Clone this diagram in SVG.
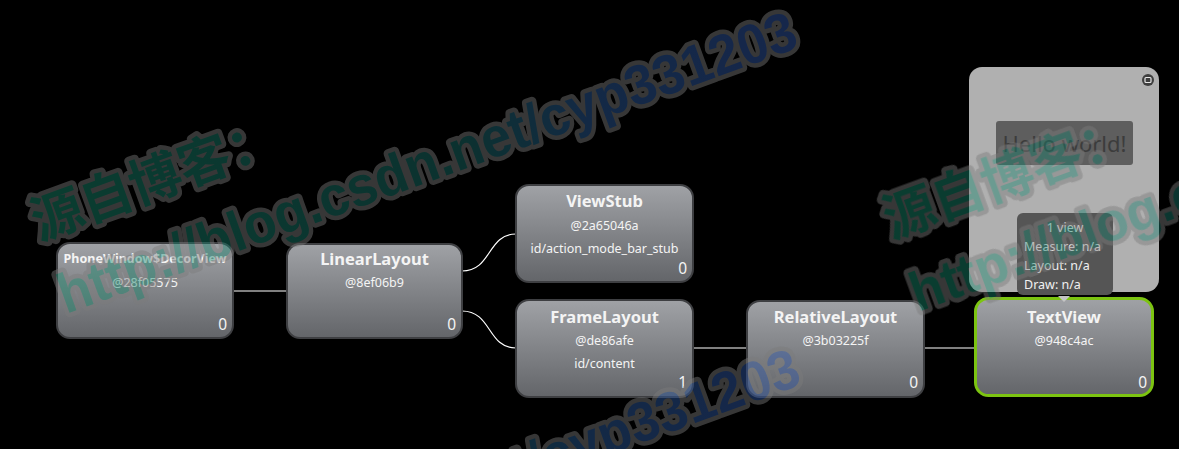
<svg xmlns="http://www.w3.org/2000/svg" xmlns:xlink="http://www.w3.org/1999/xlink" width="1179" height="449" viewBox="0 0 1179 449">
<style>
.node rect.box{fill:url(#nodeGrad);stroke:#3e3f42;stroke-width:2}
.node text{font-family:"Noto Sans","Open Sans","Liberation Sans",sans-serif;fill:#f4f4f4;text-anchor:middle}
.node text.title{font-weight:bold;font-size:16.5px}
.node text.sub{font-size:12.5px}
.node text.count{font-size:15.5px;text-anchor:end}
.conn{fill:none;stroke:#ffffff;stroke-width:1.2}
.tip{font-family:"Noto Sans","Open Sans","Liberation Sans",sans-serif;font-size:12.5px;fill:#f0f0f0}
.wm{font-family:"Liberation Sans","Noto Sans CJK SC",sans-serif;font-weight:bold;font-size:56px;fill:url(#wmGrad);stroke:#7c7c7c;stroke-width:9;stroke-linejoin:round;paint-order:stroke}
.wm.cjk{font-family:"Noto Sans CJK SC",sans-serif;font-size:52px}
</style>
<defs>
<linearGradient id="nodeGrad" x1="0" y1="0" x2="0" y2="1">
<stop offset="0" stop-color="#a0a2a6"/>
<stop offset="1" stop-color="#636569"/>
</linearGradient>
<linearGradient id="wmGrad" gradientUnits="userSpaceOnUse" x1="0" y1="0" x2="780" y2="0">
<stop offset="0" stop-color="#178a6c"/>
<stop offset="0.55" stop-color="#1a6f6a"/>
<stop offset="0.72" stop-color="#2c5c9c"/>
<stop offset="1" stop-color="#3158a8"/>
</linearGradient>
<g id="wm" transform="translate(66,314) rotate(-20)">
<text class="wm cjk" x="0" y="-78">源自博客：</text>
<text class="wm" x="0" y="0" textLength="782" lengthAdjust="spacingAndGlyphs">http://blog.csdn.net/cyp331203</text>
</g>
</defs>
<rect x="0" y="0" width="1179" height="449" fill="#000000"/>

<g id="connectors">
<path class="conn" d="M233,291 H287"/>
<path class="conn" d="M462,271 C492,271 487,234 516,234"/>
<path class="conn" d="M462,311 C492,311 487,348 516,348"/>
<path class="conn" d="M693,348 H747"/>
<path class="conn" d="M924,348 H975"/>
</g>

<g id="node-decorview" class="node">
<rect class="box" x="57" y="243" width="176" height="95" rx="13"/>
<text class="title" x="145" y="263" style="font-size:12.5px">PhoneWindow$DecorView</text>
<text class="sub" x="145" y="287">@28f05575</text>
<text class="count" x="227" y="330">0</text>
</g>

<g id="node-linearlayout" class="node">
<rect class="box" x="287" y="244" width="175" height="94" rx="13"/>
<text class="title" x="374.5" y="265">LinearLayout</text>
<text class="sub" x="374.5" y="287">@8ef06b9</text>
<text class="count" x="456" y="330">0</text>
</g>

<g id="node-viewstub" class="node">
<rect class="box" x="516" y="185" width="177" height="97" rx="13"/>
<text class="title" x="604.5" y="207">ViewStub</text>
<text class="sub" x="604.5" y="230">@2a65046a</text>
<text class="sub" x="604.5" y="253">id/action_mode_bar_stub</text>
<text class="count" x="687" y="274">0</text>
</g>

<g id="node-framelayout" class="node">
<rect class="box" x="516" y="300" width="177" height="97" rx="13"/>
<text class="title" x="604.5" y="323">FrameLayout</text>
<text class="sub" x="604.5" y="345">@de86afe</text>
<text class="sub" x="604.5" y="368">id/content</text>
<text class="count" x="687" y="388">1</text>
</g>

<g id="node-relativelayout" class="node">
<rect class="box" x="747" y="301" width="177" height="96" rx="13"/>
<text class="title" x="835.5" y="323">RelativeLayout</text>
<text class="sub" x="835.5" y="345">@3b03225f</text>
<text class="count" x="918" y="388">0</text>
</g>

<g id="node-textview" class="node">
<rect class="box" x="975.5" y="298.5" width="177" height="97" rx="13" style="stroke:#7cc411;stroke-width:3"/>
<text class="title" x="1064" y="323">TextView</text>
<text class="sub" x="1064" y="345">@948c4ac</text>
<text class="count" x="1147" y="388">0</text>
</g>

<g id="preview-popup">
<rect x="969" y="67" width="190" height="225" rx="13" fill="#b0b0b0"/>
<circle cx="1148" cy="80" r="6" fill="#3e3e3e"/>
<rect x="1145" y="77.5" width="6" height="5" rx="1" fill="none" stroke="#e8e8e8" stroke-width="1.2"/>
<rect x="996" y="121" width="137" height="44" rx="3" fill="#5e5e5e"/>
<text x="1064.5" y="152" text-anchor="middle" style="font-family:'Noto Sans','Open Sans',sans-serif;font-size:22px;fill:#3c3c3c">Hello world!</text>
</g>

<g id="tooltip">
<rect x="1017" y="213" width="96" height="82" rx="6" fill="#555555"/>
<polygon points="1058,296 1070,296 1064,302" fill="#c4c4c4"/>
<text class="tip" x="1065" y="232" text-anchor="middle">1 view</text>
<text class="tip" x="1024" y="251">Measure: n/a</text>
<text class="tip" x="1024" y="270">Layout: n/a</text>
<text class="tip" x="1024" y="289">Draw: n/a</text>
</g>

<g id="watermarks" opacity="0.45">
<use xlink:href="#wm"/>
<use xlink:href="#wm" transform="translate(852,-2)"/>
<use xlink:href="#wm" transform="translate(3,337)"/>
</g>
</svg>
